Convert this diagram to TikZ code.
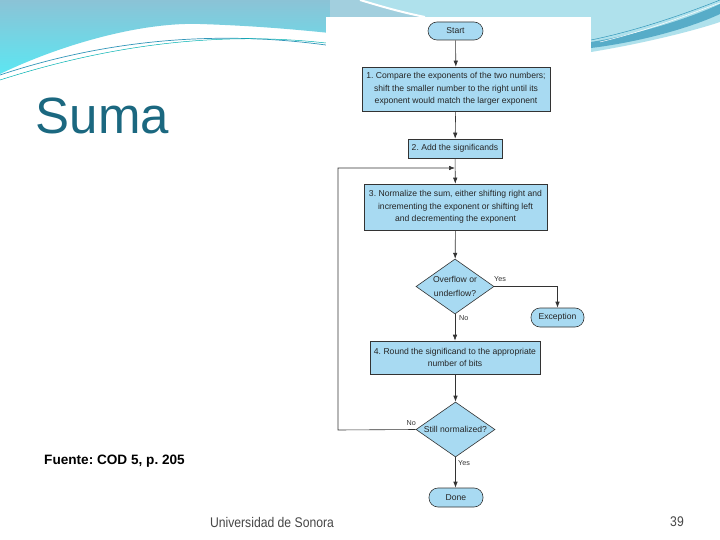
\documentclass[tikz,border=0pt]{standalone}
\usepackage{fontspec}
\setmainfont{Liberation Sans}
\usetikzlibrary{shapes.geometric,arrows.meta}
\frenchspacing
\definecolor{boxfill}{RGB}{168,218,242}
\definecolor{sumacol}{RGB}{27,104,128}
\definecolor{bandtop}{RGB}{139,195,214}
\definecolor{bandbot}{RGB}{92,230,242}
\definecolor{bandright}{RGB}{175,225,236}
\definecolor{streak}{RGB}{50,150,185}
\definecolor{footgray}{RGB}{70,70,70}
\newcommand{\dtext}[1]{\makebox[0pt][c]{\renewcommand{\arraystretch}{1.12}\begin{tabular}{@{}c@{}}#1\end{tabular}}}
\tikzset{
  flow/.style={draw=black!80, fill=boxfill, line width=0.6pt, inner sep=0pt, align=center,
    font=\fontsize{8.6}{12.6}\selectfont, text=black!85},
  procbox/.style={flow, rectangle},
  termbox/.style={flow, rectangle, rounded corners=9pt},
  decbox/.style={flow, diamond, aspect=1.42},
  arr/.style={draw=black!80, line width=0.6pt, -{Latex[length=6pt,width=4.5pt]}},
  lbl/.style={font=\fontsize{7.2}{7.5}\selectfont, text=black!80, inner sep=0pt}
}
\begin{document}
\begin{tikzpicture}[x=1pt,y=-1pt]
\useasboundingbox (0,0) rectangle (720,540);
\fill[white] (0,0) rectangle (720,540);
% top decoration
\shade[top color=bandtop, bottom color=bandbot]
  (0,0) -- (340,0) -- (340,34) .. controls (300,30) and (260,26) .. (200,24)
  .. controls (140,22) and (60,45) .. (0,74) -- cycle;
\fill[bandright] (330,0) -- (720,0) -- (720,22) .. controls (690,32) and (640,44) .. (591,52) -- (591,17) -- (330,17) -- cycle;
\fill[bandtop!80!white] (330,0) -- (360,0) .. controls (380,6) and (400,12) .. (420,17) -- (330,17) -- cycle;
\draw[white, line width=2pt] (360,0) .. controls (380,6) and (400,12) .. (425,17);
\fill[streak!70!bandright] (591,42) .. controls (640,34) and (690,18) .. (720,4) -- (720,14) .. controls (690,28) and (640,42) .. (591,48) -- cycle;
\draw[streak, line width=0.5pt] (591,40) .. controls (640,30) and (690,12) .. (720,0);
\draw[white, line width=0.5pt] (600,42) .. controls (650,30) and (690,14) .. (720,3);
\draw[streak, line width=0.7pt] (0,75) .. controls (90,45) and (200,28) .. (326,45);
\draw[teal!60!cyan, line width=0.5pt] (0,80) .. controls (100,48) and (210,30) .. (326,43);
% title and footer
\node[anchor=west, font=\fontsize{51}{51}\selectfont, text=sumacol, inner sep=0pt] (title) at (35.5,116) {Suma};
\node[anchor=west, font=\bfseries\fontsize{13.6}{14}\selectfont, inner sep=0pt] (src) at (44,461.5) {Fuente: COD 5, p. 205};
\node[font=\fontsize{14}{14}\selectfont, text=footgray, inner sep=0pt] (uni) at (272,522) {\scalebox{0.87}[1]{Universidad de Sonora}};
\node[font=\fontsize{14}{14}\selectfont, text=footgray, inner sep=0pt] (pg) at (677,522) {\scalebox{0.87}[1]{39}};
% image background
\fill[white] (326,17) rectangle (591,510);
% flowchart
\node[termbox, minimum width=55pt, minimum height=18pt] (start) at (455.5,31) {Start};
\node[procbox, minimum width=188pt, minimum height=44pt] (b1) at (456,89) {1.\ Compare the exponents of the two numbers;\\ shift the smaller number to the right until its\\ exponent would match the larger exponent};
\node[procbox, minimum width=94pt, minimum height=19pt] (b2) at (455,148.5) {2. Add the significands};
\node[procbox, minimum width=183pt, minimum height=46pt] (b3) at (455.5,207) {3. Normalize the sum, either shifting right and\\ incrementing the exponent or shifting left\\ and decrementing the exponent};
\node[decbox, minimum width=78pt, minimum height=55pt] (d1) at (455,286.5) {\dtext{Overflow or\\ underflow?}};
\node[termbox, minimum width=53pt, minimum height=19pt] (exc) at (557.5,317.5) {Exception};
\node[procbox, minimum width=170pt, minimum height=33pt] (b4) at (455,357.5) {4. Round the significand to the appropriate\\ number of bits};
\node[decbox, minimum width=79pt, minimum height=55pt] (d2) at (455.5,429.5) {\dtext{Still normalized?}};
\node[termbox, minimum width=54pt, minimum height=19pt] (done) at (456,497.5) {Done};
\coordinate (join) at (455,168);
\coordinate (loopc) at (338,430);
% connectors
\draw[arr] (start) -- (b1);
\draw[arr] (b1) -- (b2);
\draw[arr] (b2) -- (b3);
\draw[arr] (b3) -- (d1);
\draw[arr] (d1.east) -| (exc.north);
\draw[arr] (d1.south) -- (b4.north -| d1.south);
\draw[arr] (b4.south -| d2.north) -- (d2.north);
\draw[arr] (d2.south) -- (done.north -| d2.south);
\draw[arr] (d2.west) -- (loopc) |- (join);
% labels
\node[lbl, anchor=south west] (ly1) at (494,282) {Yes};
\node[lbl, anchor=west] (ln1) at (459,318) {No};
\node[lbl, anchor=south east] (ln2) at (416,426) {No};
\node[lbl, anchor=west] (ly2) at (458,463) {Yes};
\end{tikzpicture}
\end{document}
